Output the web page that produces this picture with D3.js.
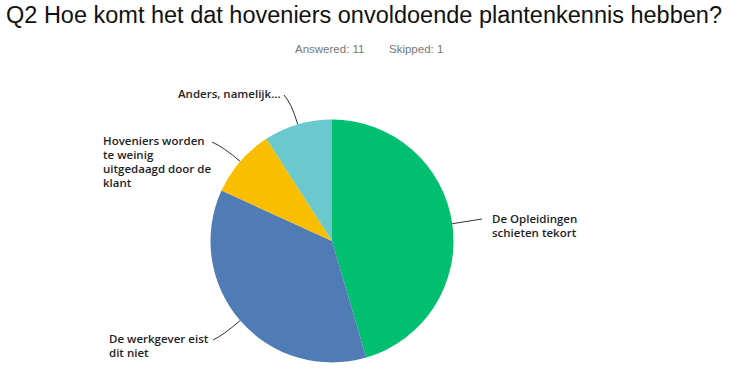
<!DOCTYPE html>
<html>
<head>
<meta charset="utf-8">
<script src="https://cdn.jsdelivr.net/npm/d3@7"></script>
<style>
  body { margin: 0; background: #fff; }
</style>
</head>
<body>
<div id="chart"></div>
<script>
// answer counts for Q2 (11 answered)
var categories = ["De Opleidingen schieten tekort", "De werkgever eist dit niet",
  "Hoveniers worden te weinig uitgedaagd door de klant", "Anders, namelijk..."];
var counts = [5, 4, 1, 1];
var colors = ["#00bf6f", "#507cb6", "#f9be00", "#6bc8cd"];
// label lines as they wrap in the picture
var labelLines = [
  ["De Opleidingen", "schieten tekort"],
  ["De werkgever eist", "dit niet"],
  ["Hoveniers worden", "te weinig", "uitgedaagd door de", "klant"],
  ["Anders, namelijk..."]
];

var width = 750,
    height = 374;

var svg = d3.select("#chart").append("svg")
    .attr("width", width)
    .attr("height", height);

svg.append("text")
  .attr("x", 6)
  .attr("y", 23)
  .style("font-family", "Liberation Sans, Arial, sans-serif")
  .style("font-size", "23.5px")
  .style("fill", "#111")
  .text("Q2 Hoe komt het dat hoveniers onvoldoende plantenkennis hebben?");

var sub = svg.append("g")
  .style("font-family", "Liberation Sans, Arial, sans-serif")
  .style("font-size", "11.5px")
  .style("fill", "#777");
sub.append("text").attr("x", 295).attr("y", 53).text("Answered: 11");
sub.append("text").attr("x", 389).attr("y", 53).text("Skipped: 1");

var cx = 332, cy = 241, r = 121.5;

var pie = d3.pie().sort(null)(counts);
var arc = d3.arc().innerRadius(0).outerRadius(r);

var g = svg.append("g").attr("transform", "translate(" + cx + "," + cy + ")");

g.selectAll("path.slice")
  .data(pie)
  .enter().append("path")
  .attr("class", "slice")
  .attr("d", arc)
  .attr("fill", function(d, i) { return colors[i]; });

// leader line ends and text anchors, relative to the pie centre
var labelPos = [
  { x: 160, y: -18, end: [150, -22] },
  { x: -223, y: 102, end: [-119, 99] },
  { x: -229, y: -96, end: [-120, -99] },
  { x: -154, y: -143, end: [-48, -146] }
];

pie.forEach(function(d, i) {
  var a = (d.startAngle + d.endAngle) / 2;
  var p0 = [Math.sin(a) * r, -Math.cos(a) * r];
  var p1 = labelPos[i].end;
  var path;
  if (i === 0) {
    path = "M" + p0 + "L" + p1;
  } else {
    var ctrl = [p0[0] + Math.sin(a) * 22, p0[1] - Math.cos(a) * 22];
    path = "M" + p0 + "Q" + ctrl + " " + p1;
  }
  g.append("path")
    .attr("d", path)
    .attr("fill", "none")
    .attr("stroke", "#333")
    .attr("stroke-width", 1);

  var t = g.append("text")
    .attr("x", labelPos[i].x)
    .attr("y", labelPos[i].y)
    .style("font-family", "Open Sans, sans-serif")
    .style("font-weight", 600)
    .style("font-size", "11.5px")
    .style("fill", "#1e2227");
  labelLines[i].forEach(function(line, k) {
    t.append("tspan")
      .attr("x", labelPos[i].x)
      .attr("dy", k === 0 ? 0 : 14)
      .text(line);
  });
});
</script>
</body>
</html>
